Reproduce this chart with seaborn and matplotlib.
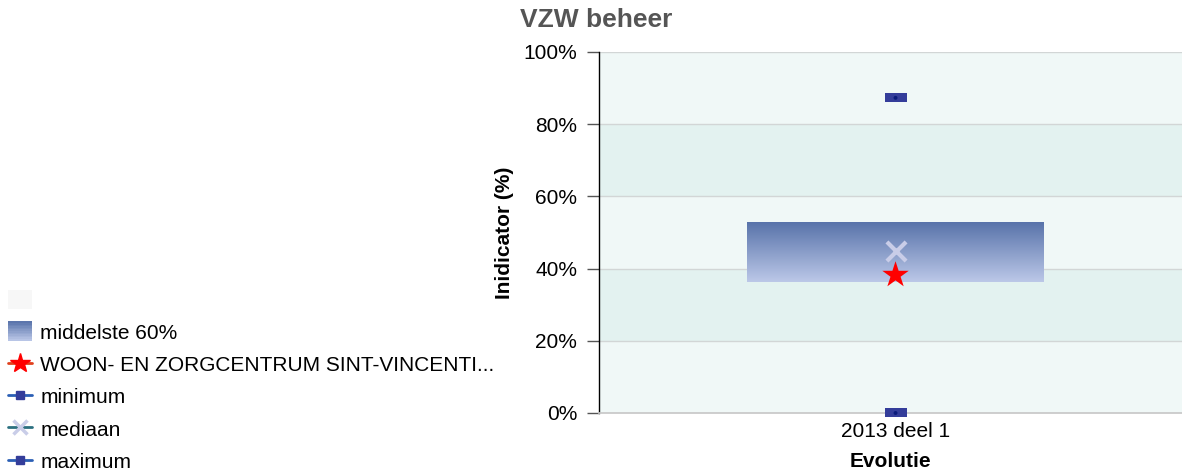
import numpy as np
import pandas as pd
import matplotlib
matplotlib.use("Agg")
import matplotlib.pyplot as plt
from matplotlib.lines import Line2D
from matplotlib.patches import Patch, Rectangle
from matplotlib.legend_handler import HandlerBase
import seaborn as sns

# data
categories = ["2013 deel 1"]
p20 = [36.3]
p80 = [52.9]
median = [44.9]
own = [38.2]
minimum = [0.0]
maximum = [87.3]
yticks = [0, 20, 40, 60, 80, 100]
legend_labels = ["middelste 60%", "WOON- EN ZORGCENTRUM SINT-VINCENTI...",
                 "minimum", "mediaan", "maximum"]

sns.set_theme(style="white")
plt.rcParams['font.family'] = ['Liberation Sans', 'DejaVu Sans']
plt.rcParams['text.color'] = 'black'
plt.rcParams['axes.labelcolor'] = 'black'
plt.rcParams['xtick.labelcolor'] = 'black'
plt.rcParams['ytick.labelcolor'] = 'black'

df = pd.DataFrame({"cat": categories, "low": p20, "high": p80, "med": median,
                   "own": own, "mn": minimum, "mx": maximum})
df["span"] = df["high"] - df["low"]

GRAD_TOP, GRAD_BOT = "#5873aa", "#bcc8e8"
cmap = matplotlib.colors.LinearSegmentedColormap.from_list("g", [GRAD_BOT, GRAD_TOP])


class HandlerGradient(HandlerBase):
    # legend square with the same vertical gradient as the box
    def create_artists(self, legend, orig, xd, yd, width, height, fontsize, trans):
        n = 12
        arts = []
        for i in range(n):
            r = Rectangle((xd, yd - 3 + i * height / n), width, height / n + 0.3,
                          facecolor=cmap((i + 0.5) / n), edgecolor="none",
                          transform=trans)
            arts.append(r)
        return arts


fig = plt.figure(figsize=(11.82, 4.7), dpi=100)
ax = fig.add_axes([0.5068, 0.1213, 0.4932, 0.7681])

# alternating bands
for i in range(5):
    col = "#e3f2f0" if i % 2 == 1 else "#f0f8f7"
    ax.axhspan(i * 20, (i + 1) * 20, color=col, zorder=0, lw=0)
for t in yticks[1:]:
    ax.axhline(t, color="#d2d6d6", lw=1, zorder=1)

# middle 60% box with gradient
sns.barplot(data=df, x="cat", y="span", bottom=df["low"], width=0.508,
            color="#7a8fc2", ax=ax, zorder=2, linewidth=0)
bar = ax.patches[-1]
x0, w = bar.get_x(), bar.get_width()
grad = np.linspace(0, 1, 256).reshape(-1, 1)
im = ax.imshow(grad, cmap=cmap, aspect="auto", origin="lower",
               extent=[x0, x0 + w, p20[0], p80[0]], zorder=3)
im.set_clip_path(bar)

rect = [(-1, -0.41), (1, -0.41), (1, 0.41), (-1, 0.41)]
for col in ["mn", "mx"]:
    sns.scatterplot(data=df, x="cat", y=col, marker=rect, s=250, color="#343d9a",
                    edgecolor="none", ax=ax, zorder=5, clip_on=False)
    sns.scatterplot(data=df, x="cat", y=col, marker="o", s=8, color="#0a1a7a",
                    edgecolor="none", ax=ax, zorder=6, clip_on=False)
sns.scatterplot(data=df, x="cat", y="med", marker="x", s=190, color="#c9cde8",
                linewidth=3, ax=ax, zorder=6)
sns.scatterplot(data=df, x="cat", y="own", marker="*", s=400, color="#ff0000",
                edgecolor="none", ax=ax, zorder=7)

ax.set_xlim(-0.5086, 0.4914)
ax.set_ylim(0, 100)
ax.set_yticks(yticks)
ax.set_yticklabels([f"{t}%" for t in yticks], fontsize=15)
ax.tick_params(axis="y", length=8.6, width=1, color="#555555", left=True, pad=7)
ax.tick_params(axis="x", length=0, labelsize=15, pad=6.5)
for s in ["top", "right"]:
    ax.spines[s].set_visible(False)
ax.spines["left"].set_color("black")
ax.spines["left"].set_linewidth(1)
ax.spines["bottom"].set_color("#c8c8c8")
ax.set_xlabel("Evolutie", fontsize=15, fontweight="bold", labelpad=8)
ax.set_ylabel("Inidicator (%)", fontsize=15, fontweight="bold", labelpad=7)
fig.text(520 / 1182, 1 - 20 / 470, "VZW beheer", fontsize=19, fontweight="bold",
         color="#555555", va="center", ha="left")

grad_handle = Patch(facecolor="#8497c8")
handles = [
    Patch(facecolor="#f7f7f7", edgecolor="none"),
    grad_handle,
    Line2D([], [], color="#e0401c", lw=2, marker="*", ms=15, mfc="#ff0000", mec="#ff0000"),
    Line2D([], [], color="#2b5fb5", lw=2, marker="s", ms=6, mfc="#343d9a", mec="#343d9a"),
    Line2D([], [], color="#2b7080", lw=2, marker="x", ms=10, mew=2.5, mec="#c9cde8"),
    Line2D([], [], color="#2b5fb5", lw=2, marker="s", ms=6, mfc="#343d9a", mec="#343d9a"),
]
leg = fig.legend(handles, [""] + legend_labels, loc="upper left",
                 bbox_to_anchor=(8 / 1182, 1 - 290 / 470), frameon=False, fontsize=15,
                 handlelength=1.15, handleheight=1.05, handletextpad=0.4,
                 labelspacing=0.55, borderpad=0.0, borderaxespad=0.0,
                 handler_map={grad_handle: HandlerGradient()})

fig.savefig("out.png", dpi=100)
